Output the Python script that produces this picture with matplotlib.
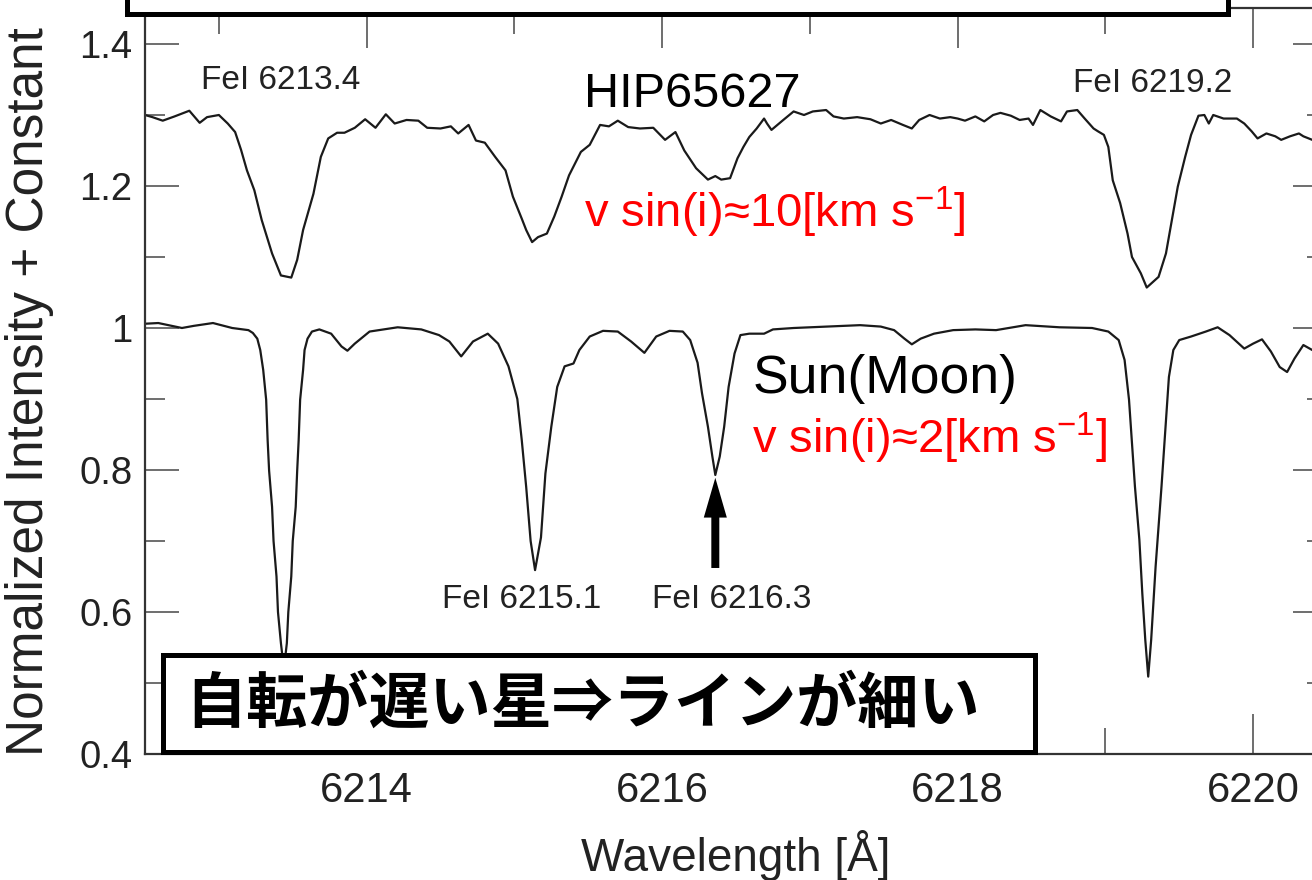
import matplotlib
matplotlib.use("Agg")
import matplotlib.pyplot as plt
from matplotlib.patches import Rectangle
from matplotlib.ticker import MultipleLocator, FuncFormatter

plt.rcParams['font.family'] = ['Liberation Sans', 'DejaVu Sans']
plt.rcParams['mathtext.fontset'] = 'custom'
plt.rcParams['mathtext.rm'] = 'Liberation Sans'
plt.rcParams['mathtext.it'] = 'Liberation Sans:italic'
plt.rcParams['mathtext.bf'] = 'Liberation Sans:bold'

# Sun (Moon) spectrum, normalized
sun_wave = [6212.50, 6212.59, 6212.75, 6212.83, 6212.96, 6213.09, 6213.20, 6213.23,
            6213.26, 6213.28, 6213.30, 6213.32, 6213.33, 6213.34, 6213.36, 6213.37,
            6213.39, 6213.40, 6213.42, 6213.44, 6213.46, 6213.47, 6213.49, 6213.50,
            6213.52, 6213.53, 6213.54, 6213.55, 6213.57, 6213.58, 6213.60, 6213.63,
            6213.68, 6213.76, 6213.83, 6213.87,
            6213.92, 6214.02, 6214.21, 6214.37, 6214.49, 6214.56, 6214.64, 6214.72,
            6214.82, 6214.89, 6214.96, 6215.02, 6215.05, 6215.08, 6215.11, 6215.14,
            6215.18, 6215.21, 6215.25, 6215.29, 6215.34, 6215.40, 6215.44, 6215.51,
            6215.60, 6215.70, 6215.79, 6215.88, 6215.96, 6216.05, 6216.14, 6216.19,
            6216.24, 6216.27, 6216.31, 6216.34, 6216.36, 6216.39, 6216.42, 6216.45,
            6216.49, 6216.53, 6216.59, 6216.69, 6216.75, 6216.89, 6217.11, 6217.34,
            6217.48, 6217.57, 6217.64, 6217.69, 6217.75, 6217.84, 6217.97, 6218.12,
            6218.26, 6218.46, 6218.69, 6218.91, 6219.02, 6219.09, 6219.13, 6219.16,
            6219.18, 6219.20, 6219.23, 6219.25, 6219.27, 6219.29, 6219.31, 6219.34,
            6219.38, 6219.41, 6219.43, 6219.46, 6219.50, 6219.58, 6219.68, 6219.76,
            6219.84, 6219.94, 6220.00, 6220.06, 6220.12, 6220.18, 6220.23, 6220.28,
            6220.34, 6220.40, 6220.45, 6220.50]
sun_flux = [1.006, 1.007, 1.000, 1.003, 1.007, 1.000, 0.997, 0.993,
            0.985, 0.969, 0.941, 0.899, 0.842, 0.799, 0.748, 0.700,
            0.650, 0.600, 0.556, 0.520, 0.556, 0.600, 0.650, 0.700,
            0.748, 0.799, 0.842, 0.899, 0.941, 0.969, 0.985, 0.995,
            0.998, 0.992, 0.974, 0.968,
            0.978, 0.995, 1.001, 0.998, 0.990, 0.981, 0.960, 0.981,
            0.992, 0.978, 0.946, 0.900, 0.842, 0.776, 0.700, 0.659,
            0.705, 0.795, 0.861, 0.917, 0.946, 0.950, 0.969, 0.988,
            0.996, 0.995, 0.981, 0.965, 0.988, 0.996, 0.995, 0.983,
            0.951, 0.908, 0.861, 0.819, 0.793, 0.819, 0.861, 0.917,
            0.964, 0.990, 0.992, 0.992, 0.998, 1.000, 1.002, 1.004,
            1.002, 0.997, 0.985, 0.977, 0.985, 0.992, 0.997, 0.998,
            0.997, 1.004, 1.001, 1.000, 0.995, 0.983, 0.955, 0.899,
            0.838, 0.777, 0.702, 0.626, 0.561, 0.509, 0.561, 0.664,
            0.777, 0.870, 0.931, 0.969, 0.983, 0.988, 0.995, 1.001,
            0.990, 0.971, 0.978, 0.984, 0.967, 0.945, 0.938, 0.957,
            0.976, 0.969, 0.966, 0.972]

# HIP65627 spectrum, normalized and shifted up by 0.3
hip_wave = [6212.50, 6212.55, 6212.62, 6212.70, 6212.80, 6212.87, 6212.92, 6213.00,
            6213.06, 6213.11, 6213.15, 6213.19, 6213.24, 6213.29, 6213.36, 6213.42,
            6213.49, 6213.53, 6213.57, 6213.64, 6213.69, 6213.74, 6213.80, 6213.85,
            6213.92, 6213.99, 6214.06, 6214.13, 6214.19, 6214.27, 6214.35, 6214.41,
            6214.50, 6214.57, 6214.62, 6214.69, 6214.74, 6214.80, 6214.87, 6214.94,
            6214.99, 6215.05, 6215.08, 6215.12, 6215.16, 6215.22, 6215.27, 6215.32,
            6215.37, 6215.45, 6215.51, 6215.58, 6215.64, 6215.70, 6215.77, 6215.85,
            6215.94, 6216.02, 6216.09, 6216.15, 6216.23, 6216.31, 6216.36, 6216.40,
            6216.46, 6216.51, 6216.55, 6216.59, 6216.64, 6216.69, 6216.71, 6216.74,
            6216.78, 6216.82, 6216.89, 6216.96, 6217.02, 6217.11, 6217.16, 6217.23,
            6217.32, 6217.41, 6217.48, 6217.55, 6217.63, 6217.69, 6217.74, 6217.81,
            6217.88, 6217.95, 6218.00, 6218.05, 6218.12, 6218.18, 6218.24, 6218.29,
            6218.36, 6218.42, 6218.48, 6218.51, 6218.56, 6218.63, 6218.70, 6218.74,
            6218.81, 6218.86, 6218.92, 6218.95, 6218.99, 6219.02, 6219.05, 6219.10,
            6219.15, 6219.18, 6219.24, 6219.28, 6219.36, 6219.41, 6219.45, 6219.49,
            6219.54, 6219.58, 6219.63, 6219.67, 6219.70, 6219.73, 6219.80, 6219.89,
            6219.94, 6219.99, 6220.03, 6220.09, 6220.15, 6220.19, 6220.25, 6220.31,
            6220.34, 6220.40, 6220.45, 6220.50]
hip_flux = [1.300, 1.297, 1.292, 1.298, 1.306, 1.289, 1.297, 1.300,
            1.288, 1.276, 1.251, 1.222, 1.194, 1.152, 1.105, 1.074,
            1.071, 1.096, 1.138, 1.189, 1.241, 1.267, 1.275, 1.275,
            1.282, 1.294, 1.282, 1.301, 1.288, 1.293, 1.292, 1.282,
            1.281, 1.284, 1.274, 1.286, 1.264, 1.261, 1.241, 1.222,
            1.185, 1.154, 1.138, 1.121, 1.128, 1.133, 1.157, 1.185,
            1.215, 1.248, 1.258, 1.286, 1.284, 1.292, 1.283, 1.281,
            1.282, 1.265, 1.276, 1.250, 1.225, 1.209, 1.214, 1.209,
            1.211, 1.239, 1.255, 1.269, 1.281, 1.295, 1.288, 1.279,
            1.286, 1.293, 1.305, 1.300, 1.305, 1.307, 1.298, 1.295,
            1.297, 1.294, 1.288, 1.293, 1.286, 1.281, 1.293, 1.300,
            1.295, 1.297, 1.295, 1.292, 1.298, 1.291, 1.300, 1.303,
            1.299, 1.293, 1.295, 1.286, 1.307, 1.298, 1.291, 1.305,
            1.307, 1.295, 1.281, 1.277, 1.272, 1.255, 1.208, 1.176,
            1.133, 1.100, 1.077, 1.057, 1.072, 1.105, 1.152, 1.199,
            1.241, 1.272, 1.299, 1.300, 1.288, 1.300, 1.295, 1.295,
            1.288, 1.277, 1.267, 1.274, 1.270, 1.265, 1.270, 1.274,
            1.270, 1.265, 1.268, 1.270]

line_names = ['FeI 6213.4', 'FeI 6215.1', 'FeI 6216.3', 'FeI 6219.2']

fig = plt.figure(figsize=(13.12, 8.8), dpi=100)
ax = fig.add_axes([145 / 1312, 126 / 880, 1182 / 1312, 746 / 880])

ax.plot(sun_wave, sun_flux, color='#1a1a1a', lw=1.6)
ax.plot(hip_wave, hip_flux, color='#1a1a1a', lw=1.6)

ax.set_xlim(6212.5, 6220.5)
ax.set_ylim(0.4, 1.4507)

# ticks on all four sides, pointing inward
ax.xaxis.set_major_locator(MultipleLocator(2))
ax.xaxis.set_minor_locator(MultipleLocator(1))
ax.yaxis.set_major_locator(MultipleLocator(0.2))
ax.yaxis.set_minor_locator(MultipleLocator(0.1))
ax.xaxis.set_major_formatter(FuncFormatter(lambda v, p: f'{v:.0f}'))
ax.yaxis.set_major_formatter(FuncFormatter(lambda v, p: f'{v:g}'))
ax.tick_params(which='both', direction='in', top=True, right=True,
               color='#555555', labelcolor='#222222')
ax.tick_params(axis='x', which='major', length=29, width=1.2, labelsize=30, pad=12)
ax.tick_params(axis='x', which='minor', length=19, width=1.2)
ax.tick_params(axis='y', which='major', length=24.5, width=1.2, labelsize=27.5, pad=9)
ax.tick_params(axis='y', which='minor', length=14.5, width=1.2)
for sp in ax.spines.values():
    sp.set_color('#333333')
    sp.set_linewidth(1.6)

ax.set_xlabel('Wavelength [Å]', fontsize=33, color='#222222')
ax.xaxis.set_label_coords(0.5, -0.1354)
ax.xaxis.label.set_va('center')
ax.set_ylabel('Normalized Intensity + Constant', fontsize=37, color='#222222')
ax.yaxis.set_label_coords(-0.0973, 0.4853)
ax.yaxis.label.set_va('center')

# line identifications
ax.text(6213.42, 1.349, line_names[0], fontsize=24, ha='center', va='center', color='#222222')
ax.text(6215.05, 0.617, line_names[1], fontsize=24, ha='center', va='center', color='#222222')
ax.text(6216.47, 0.617, line_names[2], fontsize=24, ha='center', va='center', color='#222222')
ax.text(6219.32, 1.345, line_names[3], fontsize=24, ha='center', va='center', color='#222222')

ax.arrow(6216.36, 0.662, 0, 0.127, width=0.054, head_width=0.156, head_length=0.056,
         length_includes_head=True, fc='black', ec='none', lw=0)

# star labels
ax.text(6215.47, 1.311, 'HIP65627', fontsize=35, ha='left', va='baseline')
ax.text(6215.47, 1.141, r'v sin(i)≈10[km s$^{-1}$]', fontsize=34, color='#ff0000',
        ha='left', va='baseline')
ax.text(6216.61, 0.908, 'Sun(Moon)', fontsize=38.5, ha='left', va='baseline')
ax.text(6216.61, 0.823, r'v sin(i)≈2[km s$^{-1}$]', fontsize=34, color='#ff0000',
        ha='left', va='baseline')

# caption box at the bottom
fig.add_artist(Rectangle((163 / 1312, 1 - 752 / 880), 872 / 1312, 97 / 880,
                         transform=fig.transFigure, fc='white', ec='black', lw=3.6,
                         zorder=5))
fig.text(582.5 / 1312, 1 - 705 / 880, '自転が遅い星⇒ラインが細い', fontsize=44,
         fontweight='bold', family=['Noto Sans CJK JP', 'DejaVu Sans'],
         ha='center', va='center', zorder=6)

# title box running off the top edge
fig.add_artist(Rectangle((127 / 1312, 1 - 14 / 880), 1101 / 1312, 0.1,
                         transform=fig.transFigure, fc='white', ec='black', lw=3.6,
                         zorder=5, clip_on=False))

fig.savefig('out.png', dpi=100)
